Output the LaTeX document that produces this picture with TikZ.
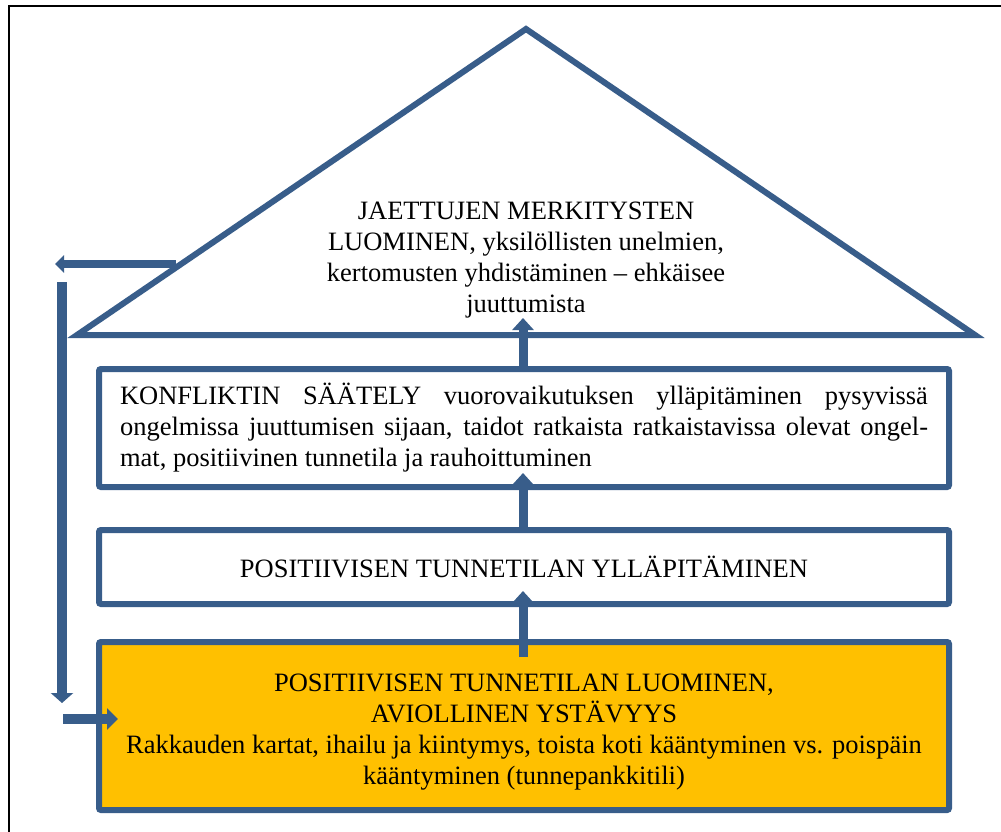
\documentclass[tikz,border=0pt]{standalone}
\usepackage{fontspec}
\setmainfont{Liberation Serif}
\usetikzlibrary{arrows.meta,calc}
\definecolor{frameblue}{HTML}{385D8A}
\definecolor{warmyellow}{HTML}{FFC000}
\tikzset{
  level/.style={draw=frameblue, line width=6pt, rounded corners=2pt, fill=white,
    minimum width=850pt, inner sep=0pt, font=\fontsize{26.5}{31}\selectfont},
  uparrow/.style={draw=frameblue, line width=9pt,
    -{Triangle[width=21pt,length=12pt]}},
  txt/.style={font=\fontsize{26.5}{31}\selectfont, align=center, inner sep=0pt}
}
\begin{document}
\begin{tikzpicture}[x=1pt,y=-1pt]
\useasboundingbox (0,0) rectangle (1001,831);
\clip (0,0) rectangle (1001,831);
\fill[white] (0,0) rectangle (1001,831);
% outer frame
\draw[line width=1.6pt] (9,6) rectangle (1030,860);

% feedback arrow leaving the roof (drawn beneath the roof outline)
\coordinate (fbStart) at (176,264);
\coordinate (fbTip) at (55,264);
\draw[frameblue, line width=8pt, -{Triangle[width=17pt,length=9pt]}] (fbStart) -- (fbTip);

% roof
\coordinate (apex) at (526,29);
\coordinate (eaveL) at (77,335);
\coordinate (eaveR) at (975,335);
\draw[frameblue, line width=6pt, line join=miter, fill=white] (apex) -- (eaveL) -- (eaveR) -- cycle;
\node[txt] (rooftxt) at (526,260) {JAETTUJEN MERKITYSTEN\\LUOMINEN, yksilöllisten unelmien,\\kertomusten yhdistäminen -- ehkäisee\\juuttumista};

% levels
\node[level, minimum height=118pt] (konf) at (524,428) {\raisebox{-3pt}{\parbox{808pt}{%
  \makebox[\linewidth][s]{KONFLIKTIN SÄÄTELY vuorovaikutuksen ylläpitäminen pysyvissä}\\
  \makebox[\linewidth][s]{ongelmissa juuttumisen sijaan, taidot ratkaista ratkaistavissa olevat ongel-}\\
  mat, positiivinen tunnetila ja rauhoittuminen}}};
\node[level, minimum height=74pt] (yllap) at (524,567) {POSITIIVISEN TUNNETILAN YLLÄPITÄMINEN};
\node[level, minimum height=168pt, fill=warmyellow] (luom) at (524,726) {};
\node[txt] (luomtxt) at (524,732) {POSITIIVISEN TUNNETILAN LUOMINEN,\\AVIOLLINEN YSTÄVYYS\\Rakkauden kartat, ihailu ja kiintymys, toista koti kääntyminen vs. poispäin\\kääntyminen (tunnepankkitili)};

% upward arrows between levels
\coordinate (tipA) at (523,318);
\coordinate (tipB) at (523,473);
\coordinate (tipC) at (523,591);
\coordinate (baseC) at (523,657);
\draw[uparrow] (konf.north -| tipA) -- (tipA);
\draw[uparrow] (yllap.north -| tipB) -- (tipB);
\draw[uparrow] (baseC) -- (tipC);

% feedback loop down the left side
\coordinate (dnTop) at (62,282);
\coordinate (dnTip) at (62,703);
\coordinate (inStart) at (63,719);
\coordinate (inTip) at (118,719);
\draw[frameblue, line width=10pt, -{Triangle[width=22pt,length=10pt]}] (dnTop) -- (dnTip);
\draw[frameblue, line width=10pt, -{Triangle[width=21pt,length=11pt]}] (inStart) -- (inTip);
\end{tikzpicture}
\end{document}
